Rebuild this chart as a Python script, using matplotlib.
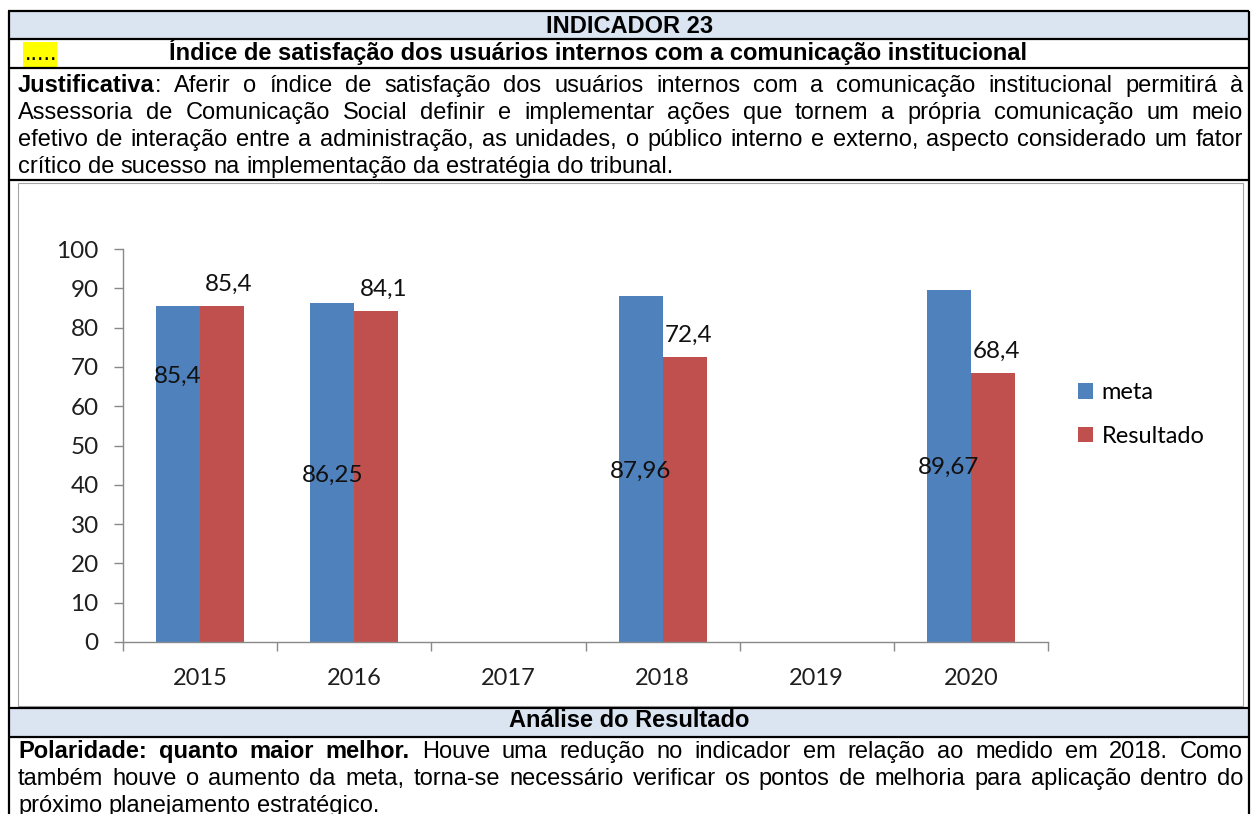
import matplotlib
matplotlib.use("Agg")
import matplotlib.pyplot as plt
from matplotlib.patches import Rectangle
import numpy as np

# chart data
years = ["2015", "2016", "2017", "2018", "2019", "2020"]
meta = [85.4, 86.25, np.nan, 87.96, np.nan, 89.67]
resultado = [85.4, 84.1, np.nan, 72.4, np.nan, 68.4]
meta_labels = ["85,4", "86,25", "", "87,96", "", "89,67"]
resultado_labels = ["85,4", "84,1", "", "72,4", "", "68,4"]

# label placement (Excel put the meta labels at odd heights)
meta_label_y = [67.7, 42.5, None, 43.3, None, 44.5]
resultado_label_dx = [7, 7, 13, 4, 0, 4]

# table texts
title_top = "INDICADOR 23"
title_row = "Índice de satisfação dos usuários internos com a comunicação institucional"
title_analysis = "Análise do Resultado"
just_bold = "Justificativa"
just_lines = [
    "Justificativa: Aferir o índice de satisfação dos usuários internos com a comunicação institucional permitirá à",
    "Assessoria de Comunicação Social definir e implementar ações que tornem a própria comunicação um meio",
    "efetivo de interação entre a administração, as unidades, o público interno e externo, aspecto considerado um fator",
    "crítico de sucesso na implementação da estratégia do tribunal.",
]
anal_bold = "Polaridade: quanto maior melhor."
anal_lines = [
    "Polaridade: quanto maior melhor. Houve uma redução no indicador em relação ao medido em 2018. Como",
    "também houve o aumento da meta, torna-se necessário verificar os pontos de melhoria para aplicação dentro do",
    "próximo planejamento estratégico.",
]

BLUE = "#4f81bd"
RED = "#c0504d"
HEAD = "#dbe5f1"
GRAY = "#898989"
W, H = 1252, 814
TXT_FONT = "Liberation Sans"
CHART_FONT = "Lato"

fig = plt.figure(figsize=(W / 100, H / 100), dpi=100)
bg = fig.add_axes([0, 0, 1, 1])
bg.set_xlim(0, W)
bg.set_ylim(H, 0)
bg.axis("off")
renderer = fig.canvas.get_renderer()


def text_width(s, fs, weight):
    t = bg.text(0, 0, s, fontsize=fs, fontweight=weight, family=TXT_FONT)
    w = t.get_window_extent(renderer).width
    t.remove()
    return w


def split_line(line, bold_len):
    """Split a line into words, each a list of (text, weight) pieces."""
    words = []
    pos = 0
    for w in line.split(" "):
        start = line.index(w, pos)
        pos = start + len(w)
        pieces = []
        cut = min(max(bold_len - start, 0), len(w))
        if cut > 0:
            pieces.append((w[:cut], "bold"))
        if cut < len(w):
            pieces.append((w[cut:], "normal"))
        words.append(pieces)
    return words


def natural_width(line, bold_len, fs):
    words = split_line(line, bold_len)
    total = sum(text_width(p, fs, wt) for wd in words for p, wt in wd)
    return total + (len(words) - 1) * 0.278 * fs * 100 / 72


def draw_paragraph(lines, bold_len, x0, x1, y0, step, fs):
    space = 0.278 * fs * 100 / 72
    offset = 0
    for i, line in enumerate(lines):
        words = split_line(line, bold_len - offset)
        widths = [[text_width(p, fs, wt) for p, wt in wd] for wd in words]
        total = sum(sum(ws) for ws in widths)
        last = i == len(lines) - 1
        gap = space if last else (x1 - x0 - total) / (len(words) - 1)
        x = x0
        y = y0 + i * step
        for wd, ws in zip(words, widths):
            for (p, wt), pw in zip(wd, ws):
                bg.text(x, y, p, fontsize=fs, fontweight=wt, family=TXT_FONT,
                        ha="left", va="baseline", color="black")
                x += pw
            x += gap
        offset += len(line) + 1


# pick a font size that lets the justified lines fit
X0, X1 = 18, 1243
fs = 17.0
widest = max(
    max(natural_width(l, len(just_bold), fs) for l in just_lines[:-1]),
    max(natural_width(l, len(anal_bold), fs) for l in anal_lines[:-1]),
)
if widest > (X1 - X0) * 0.995:
    fs = fs * (X1 - X0) * 0.995 / widest

# table cells
bg.add_patch(Rectangle((9, 12), 1239, 26, facecolor=HEAD, edgecolor="none"))
bg.add_patch(Rectangle((9, 709), 1239, 27, facecolor=HEAD, edgecolor="none"))
bg.add_patch(Rectangle((23, 42), 34, 25, facecolor="#ffff00", edgecolor="none"))
bg.add_patch(Rectangle((18, 183), 1225, 523, facecolor="none", edgecolor="#a6a6a6", lw=0.8))
for y in [11, 39, 68, 180, 708, 737]:
    bg.plot([8, 1249], [y, y], color="black", lw=1.6, solid_capstyle="butt")
for x in [8.5, 1248.5]:
    bg.plot([x, x], [11, H], color="black", lw=1.6, solid_capstyle="butt")

bg.text(630, 33, title_top, fontsize=fs, fontweight="bold", family=TXT_FONT,
        ha="center", va="baseline")
bg.text(25, 60, ".....", fontsize=fs, family=TXT_FONT, ha="left", va="baseline")
bg.text(169, 60, title_row, fontsize=fs, fontweight="bold", family=TXT_FONT,
        ha="left", va="baseline")
bg.text(629, 727, title_analysis, fontsize=fs, fontweight="bold", family=TXT_FONT,
        ha="center", va="baseline")

draw_paragraph(just_lines, len(just_bold), X0, X1, 92, 27, fs)
draw_paragraph(anal_lines, len(anal_bold), X0, X1, 758, 27, fs)

# chart
ax = fig.add_axes([123 / W, 1 - 642 / H, (1048 - 123) / W, (642 - 249) / H])
x = np.arange(len(years))
bw = 0.285
ax.bar(x - bw / 2, meta, bw, color=BLUE, label="meta")
ax.bar(x + bw / 2, resultado, bw, color=RED, label="Resultado")

for i in range(len(years)):
    if meta_label_y[i] is not None:
        ax.text(x[i] - bw / 2, meta_label_y[i], meta_labels[i], fontsize=17.5,
                family=CHART_FONT, ha="center", va="center", color="#111111")
    if not np.isnan(resultado[i]):
        ax.annotate(resultado_labels[i], (x[i] + bw / 2, resultado[i]),
                    xytext=(resultado_label_dx[i], 22), textcoords="offset pixels",
                    fontsize=17.5, family=CHART_FONT, ha="center", va="center",
                    color="#111111")

ax.set_xlim(-0.5, len(years) - 0.5)
ax.set_ylim(0, 100)
ax.set_yticks(range(0, 101, 10))
ax.set_xticks(x)
ax.set_xticklabels(years)
ax.set_xticks(np.arange(-0.5, len(years), 1), minor=True)
for s in ["top", "right"]:
    ax.spines[s].set_visible(False)
for s in ["left", "bottom"]:
    ax.spines[s].set_color(GRAY)
    ax.spines[s].set_linewidth(1.0)
ax.tick_params(axis="y", direction="out", length=6.5, width=1, color=GRAY, pad=11,
               labelsize=17.5, labelcolor="#1f1f1f")
ax.tick_params(axis="x", which="major", length=0, pad=19, labelsize=17,
               labelcolor="#1f1f1f")
ax.tick_params(axis="x", which="minor", direction="out", length=6.5, width=1, color=GRAY)
for lab in ax.get_xticklabels() + ax.get_yticklabels():
    lab.set_family(CHART_FONT)

ax.legend(loc="center left", bbox_to_anchor=(1078 / W, 1 - 414.5 / H),
          bbox_transform=fig.transFigure, frameon=False, borderpad=0,
          borderaxespad=0, handlelength=0.65, handleheight=0.65,
          handletextpad=0.35, labelspacing=0.95,
          prop={"family": CHART_FONT, "size": 17})

fig.savefig("out.png", dpi=100)
